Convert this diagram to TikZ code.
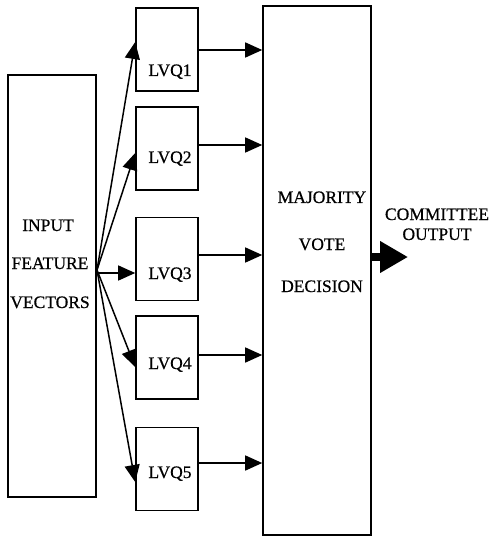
\documentclass[tikz,border=0pt]{standalone}
\usepackage{fontspec}
\setmainfont[FakeBold=0.6]{Liberation Serif}
\usetikzlibrary{arrows.meta}
\begin{document}
\begin{tikzpicture}[x=1pt,y=-1pt,
  box/.style={draw,line width=1.6pt,rectangle,inner sep=0pt},
  lvq/.style={box,minimum width=62pt,minimum height=83pt},
  txt/.style={font=\fontsize{17.5}{20}\selectfont,inner sep=0pt,anchor=base},
  conn/.style={line width=1.5pt,-{Triangle[length=17pt,width=15pt]}}]
\useasboundingbox (0,0) rectangle (492,537);
\node[box,minimum width=88pt,minimum height=422pt] (in) at (52,286) {};
\node[box,minimum width=108pt,minimum height=529pt] (mv) at (317,270.5) {};
\node[lvq] (l1) at (167,49.5) {};
\node[lvq] (l2) at (167,148.5) {};
\node[lvq] (l3) at (167,259) {};
\node[lvq] (l4) at (167,357.5) {};
\node[lvq] (l5) at (167,469) {};
\node[txt] (t1) at (170,76) {LVQ1};
\node[txt] (t2) at (170,163) {LVQ2};
\node[txt] (t3) at (170,279) {LVQ3};
\node[txt] (t4) at (170,369) {LVQ4};
\node[txt] (t5) at (170,478) {LVQ5};
\node[txt] (i1) at (48,231) {INPUT};
\node[txt] (i2) at (50,269) {FEATURE};
\node[txt] (i3) at (50,308) {VECTORS};
\node[txt] (m1) at (322,203) {MAJORITY};
\node[txt] (m2) at (322,250) {VOTE};
\node[txt] (m3) at (322,292) {DECISION};
\node[txt] (c1) at (437,220) {COMMITTEE};
\node[txt] (c2) at (437,240) {OUTPUT};
\coordinate (o) at (97,270);
\draw[conn] (o) -- (l1.west |- 0,42);
\draw[conn] (o) -- (l2.west |- 0,153);
\draw[conn] (o |- 0,273) -- (l3.west |- 0,273);
\draw[conn] (o) -- (l4.west |- 0,367);
\draw[conn] (o) -- (l5.west |- 0,482);
\draw[conn] (l1.east |- 0,50) -- (mv.west |- 0,50);
\draw[conn] (l2.east |- 0,145) -- (mv.west |- 0,145);
\draw[conn] (l3.east |- 0,255) -- (mv.west |- 0,255);
\draw[conn] (l4.east |- 0,355) -- (mv.west |- 0,355);
\draw[conn] (l5.east |- 0,463) -- (mv.west |- 0,463);
\coordinate (out) at (408,257);
\draw[line width=8pt,-{Triangle[length=28pt,width=30pt]}] (mv.east |- 0,257) -- (out);
\end{tikzpicture}
\end{document}
